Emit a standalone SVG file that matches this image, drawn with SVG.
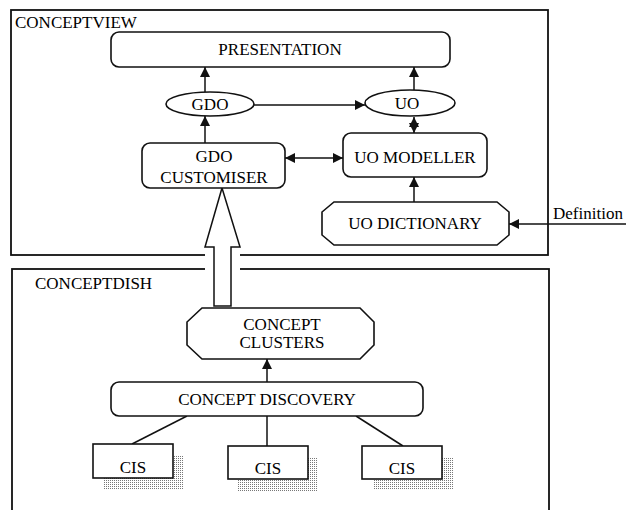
<svg xmlns="http://www.w3.org/2000/svg" width="626" height="510" viewBox="0 0 626 510">
<style>
text{font-family:"Liberation Serif","Times New Roman",serif;font-size:17px;fill:#000;}
.c{text-anchor:middle;}
.box{fill:#fff;stroke:#111;stroke-width:1.6;}
.frame{fill:none;stroke:#111;stroke-width:1.8;}
.ln{fill:none;stroke:#111;stroke-width:1.5;}
</style>
<defs>
<marker id="ah" viewBox="0 0 10 10" refX="10" refY="5" markerWidth="10" markerHeight="10" markerUnits="userSpaceOnUse" orient="auto-start-reverse">
<path d="M0,0 L10,5 L0,10 Z" fill="#111"/>
</marker>
<pattern id="dots" patternUnits="userSpaceOnUse" width="2" height="2">
<rect x="0" y="0" width="1" height="1" fill="#777"/>
</pattern>
</defs>

<g id="conceptview">
<rect class="frame" x="11" y="10" width="537" height="245"/>
<text x="15" y="28">CONCEPTVIEW</text>
</g>
<g id="conceptdish">
<rect class="frame" x="12" y="269" width="537" height="250"/>
<text x="35" y="289">CONCEPTDISH</text>
</g>

<g id="connectors">
<line class="ln" x1="205" y1="92" x2="205" y2="67" marker-end="url(#ah)"/>
<line class="ln" x1="205" y1="143" x2="205" y2="116" marker-end="url(#ah)"/>
<line class="ln" x1="414" y1="90" x2="414" y2="67" marker-end="url(#ah)"/>
<line class="ln" x1="254" y1="105" x2="365" y2="105" marker-end="url(#ah)"/>
<line class="ln" x1="414" y1="117" x2="414" y2="133" marker-start="url(#ah)" marker-end="url(#ah)"/>
<line class="ln" x1="285" y1="158" x2="343" y2="158" marker-start="url(#ah)" marker-end="url(#ah)"/>
<line class="ln" x1="414" y1="202" x2="414" y2="177" marker-end="url(#ah)"/>
<line class="ln" x1="626" y1="224" x2="509" y2="224" marker-end="url(#ah)"/>
<line class="ln" x1="267" y1="382" x2="267" y2="359" marker-end="url(#ah)"/>
<line class="ln" x1="132" y1="444" x2="187" y2="416"/>
<line class="ln" x1="267" y1="416" x2="267" y2="446"/>
<line class="ln" x1="403" y1="446" x2="356" y2="416"/>
<rect x="205" y="250" width="35" height="24" fill="#fff"/>
<polygon points="222,188 240,247 231,247 231,306 214,306 214,247 205,247" fill="#fff" stroke="#111" stroke-width="1.5" stroke-linejoin="miter"/>
</g>

<g id="presentation">
<rect class="box" x="111" y="32" width="339" height="35" rx="8"/>
<text class="c" x="280" y="55">PRESENTATION</text>
</g>
<g id="gdo">
<ellipse class="box" cx="210" cy="104" rx="44" ry="12"/>
<text class="c" x="210" y="110">GDO</text>
</g>
<g id="uo">
<ellipse class="box" cx="410" cy="103" rx="45" ry="13"/>
<text class="c" x="407" y="109">UO</text>
</g>
<g id="gdo-customiser">
<rect class="box" x="142" y="143" width="143" height="45" rx="8"/>
<text class="c" x="214" y="162">GDO</text>
<text class="c" x="214" y="183">CUSTOMISER</text>
</g>
<g id="uo-modeller">
<rect class="box" x="343" y="133" width="144" height="44" rx="8"/>
<text class="c" x="415" y="163">UO MODELLER</text>
</g>
<g id="uo-dictionary">
<polygon class="box" points="334,202 497,202 509,212 509,235 497,245 334,245 322,235 322,212"/>
<text class="c" x="415" y="229">UO DICTIONARY</text>
</g>
<g id="definition">
<text x="553" y="219">Definition</text>
</g>
<g id="concept-clusters">
<polygon class="box" points="202,308 360,308 374,322 374,345 360,359 202,359 187,345 187,322"/>
<text class="c" x="282" y="330">CONCEPT</text>
<text class="c" x="282" y="348">CLUSTERS</text>
</g>
<g id="concept-discovery">
<rect class="box" x="111" y="382" width="312" height="34" rx="8"/>
<text class="c" x="267" y="405">CONCEPT DISCOVERY</text>
</g>
<g id="cis1">
<rect x="103" y="455" width="80" height="35" fill="url(#dots)"/>
<rect class="box" x="93" y="444" width="80" height="34"/>
<text class="c" x="133" y="473">CIS</text>
</g>
<g id="cis2">
<rect x="238" y="457" width="80" height="34" fill="url(#dots)"/>
<rect class="box" x="228" y="446" width="80" height="33"/>
<text class="c" x="268" y="474">CIS</text>
</g>
<g id="cis3">
<rect x="373" y="457" width="80" height="33" fill="url(#dots)"/>
<rect class="box" x="362" y="446" width="80" height="33"/>
<text class="c" x="402" y="474">CIS</text>
</g>
</svg>
